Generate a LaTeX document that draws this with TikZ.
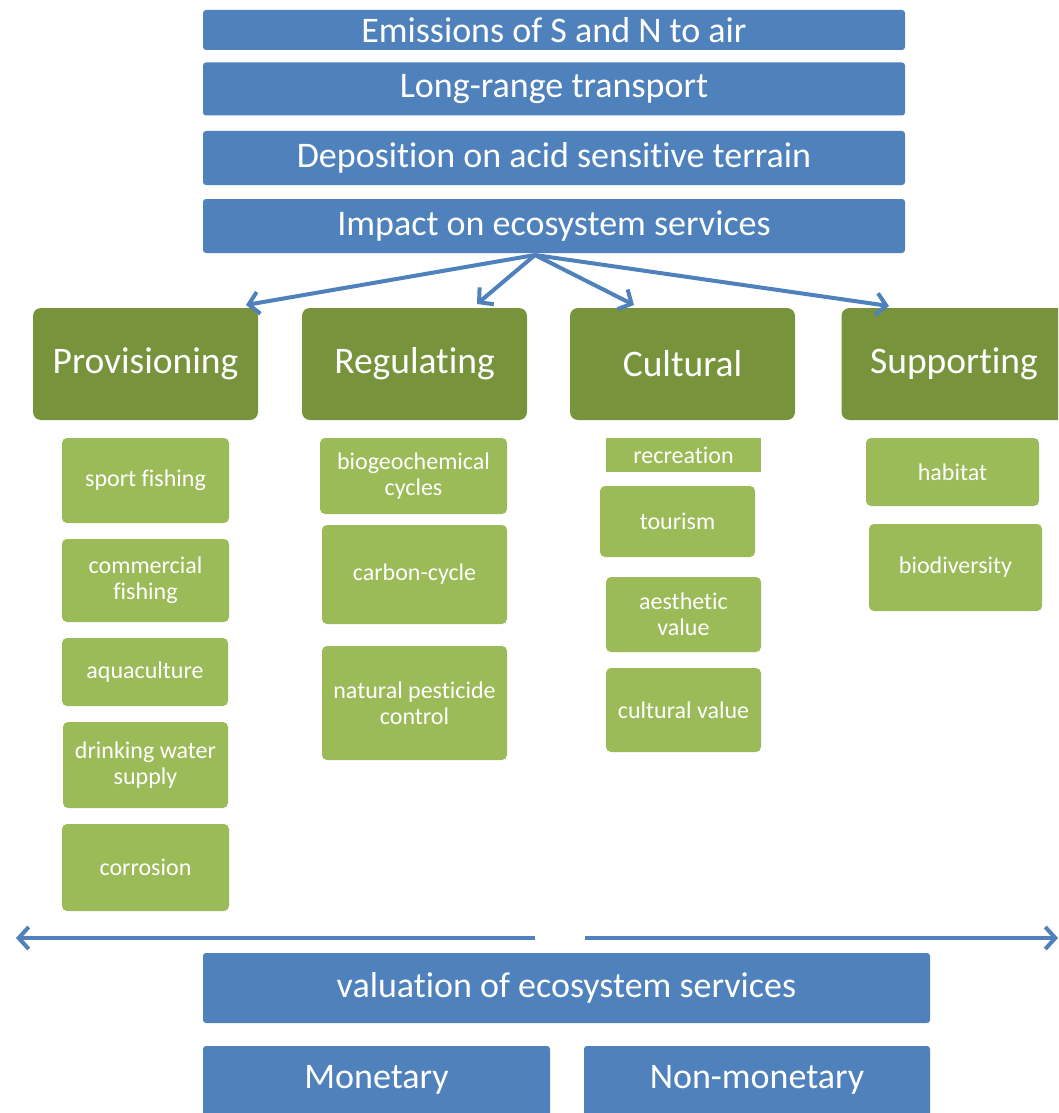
\documentclass[tikz,border=0pt]{standalone}
\usepackage{fontspec}
\setmainfont{Carlito}[Ligatures=CommonOff]
\usetikzlibrary{arrows.meta}
\definecolor{flowblue}{HTML}{4F81BD}
\definecolor{headgreen}{HTML}{77933C}
\definecolor{itemgreen}{HTML}{9BBB59}
\begin{document}
\begin{tikzpicture}[x=1pt,y=-1pt,
    stepbox/.style={fill=flowblue, rounded corners=3pt, text=white, inner sep=0pt,
        minimum width=702pt, font=\fontsize{36}{40}\selectfont},
    headbox/.style={fill=headgreen, rounded corners=8pt, text=white, inner sep=0pt,
        minimum width=225pt, minimum height=112pt, font=\fontsize{37.5}{42}\selectfont},
    itembox/.style={fill=itemgreen, rounded corners=5pt, text=white, inner sep=0pt,
        align=center, font=\fontsize{24}{26}\selectfont},
    flow/.style={draw=flowblue, line width=4pt, -{Straight Barb[length=10pt,width=22pt,line width=4pt]}}]
        \useasboundingbox (0,0) rectangle (1058,1113);
        \clip (0,0) rectangle (1058,1113);
        \fill[white] (0,0) rectangle (1058,1113);

        % chain at the top
        \node[stepbox, minimum height=40pt] (emis) at (554,30) {Emissions of S and N to air};
        \node[stepbox, minimum height=53pt] (trans) at (554,89) {Long-range transport};
        \node[stepbox, minimum height=54pt] (depo) at (554,158) {Deposition on acid sensitive terrain};
        \node[stepbox, minimum height=54pt] (impact) at (554,226) {Impact on ecosystem services};

        % service categories
        \node[headbox] (prov) at (145.5,364) {Provisioning};
        \node[headbox] (regu) at (414.5,364) {Regulating};
        \node[headbox] (cult) at (682.5,364) {Cultural};
        \node[headbox] (supp) at (954,364) {Supporting};

        \coordinate (fork) at (535,255);
        \coordinate (provtip) at (246,305);
        \coordinate (regutip) at (477,304);
        \coordinate (culttip) at (634,305);
        \coordinate (supptip) at (889,306);
        \path[flow] (fork) -- (provtip);
        \path[flow] (fork) -- (regutip);
        \path[flow] (fork) -- (culttip);
        \path[flow] (fork) -- (supptip);

        % provisioning
        \node[itembox, minimum width=167pt, minimum height=85pt] (sport) at (145.5,480.5) {sport fishing};
        \node[itembox, minimum width=167pt, minimum height=83pt] (comm) at (145.5,580.5) {commercial\\fishing};
        \node[itembox, minimum width=166pt, minimum height=68pt] (aqua) at (145,672) {aquaculture};
        \node[itembox, minimum width=165pt, minimum height=86pt] (drink) at (145.5,765) {drinking water\\supply};
        \node[itembox, minimum width=167pt, minimum height=87pt] (corr) at (145.5,867.5) {corrosion};

        % regulating
        \node[itembox, minimum width=187pt, minimum height=76pt] (biogeo) at (413.5,476) {biogeochemical\\cycles};
        \node[itembox, minimum width=185pt, minimum height=99pt] (carbon) at (414.5,574.5) {carbon-cycle};
        \node[itembox, minimum width=185pt, minimum height=114pt] (pest) at (414.5,703) {natural pesticide\\control};

        % cultural
        \node[itembox, minimum width=155pt, minimum height=34pt, rounded corners=0pt] (recr) at (683.5,455) {recreation};
        \node[itembox, minimum width=155pt, minimum height=71pt] (tour) at (677.5,521.5) {tourism};
        \node[itembox, minimum width=155pt, minimum height=75pt] (aest) at (683.5,614.5) {aesthetic\\value};
        \node[itembox, minimum width=155pt, minimum height=84pt] (cval) at (683.5,710) {cultural value};

        % supporting
        \node[itembox, minimum width=173pt, minimum height=68pt] (habit) at (952.5,472) {habitat};
        \node[itembox, minimum width=173pt, minimum height=87pt] (biodiv) at (955.5,567.5) {biodiversity};

        % valuation
        \coordinate (gapleft) at (535,938);
        \coordinate (gapright) at (585,938);
        \coordinate (leftend) at (16,938);
        \coordinate (rightend) at (1058,938);
        \path[flow] (gapleft) -- (leftend);
        \path[flow] (gapright) -- (rightend);

        \node[stepbox, minimum width=727pt, minimum height=70pt] (valu) at (566.5,988) {valuation of ecosystem services};
        \node[stepbox, minimum width=347pt, minimum height=80pt] (mone) at (376.5,1086) {};
        \node[stepbox, minimum width=346pt, minimum height=80pt] (nonm) at (757,1086) {};
        \node[font=\fontsize{36}{40}\selectfont, text=white] at (376.5,1080) {Monetary};
        \node[font=\fontsize{36}{40}\selectfont, text=white] at (757,1080) {Non-monetary};
\end{tikzpicture}
\end{document}
